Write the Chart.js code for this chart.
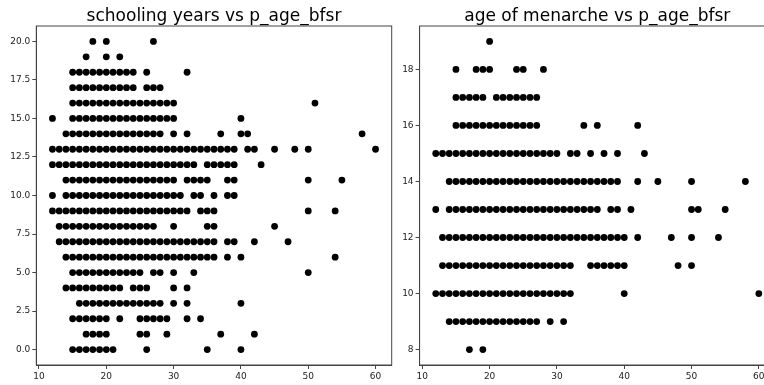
<!DOCTYPE html>
<html>
<head>
<meta charset="utf-8">
<script src="https://cdn.jsdelivr.net/npm/chart.js@4.4.0/dist/chart.umd.min.js"></script>
<style>
  html, body { margin: 0; padding: 0; background: #fff; }
  body { width: 764px; height: 385px; overflow: hidden; position: relative; }
  canvas { position: absolute; top: 0; }
  #schooling { left: 0; }
  #menarche { left: 380px; }
</style>
</head>
<body>
<canvas id="schooling" width="400" height="385"></canvas>
<canvas id="menarche" width="400" height="385"></canvas>
<script>
// values: one list of p_age_bfsr values per y level

// schooling years (y) vs p_age_bfsr (x)
const schoolingLevels = [0, 1, 2, 3, 4, 5, 6, 7, 8, 9, 10, 11, 12, 13, 14, 15, 16, 17, 18, 19, 20];
const schoolingAges = [
  [15, 16, 17, 18, 19, 20, 21, 26, 35, 40],
  [17, 18, 19, 20, 25, 26, 29, 37, 42],
  [15, 16, 17, 18, 19, 20, 22, 25, 26, 27, 28, 29, 32, 34],
  [16, 17, 18, 19, 20, 21, 22, 23, 24, 25, 26, 27, 28, 30, 32, 40],
  [14, 15, 16, 17, 18, 19, 20, 21, 22, 24, 25, 26, 30, 32],
  [15, 16, 17, 18, 19, 20, 21, 22, 23, 24, 25, 27, 28, 30, 33, 50],
  [14, 15, 16, 17, 18, 19, 20, 21, 22, 23, 24, 25, 26, 27, 28, 29, 30, 31, 32, 33, 34, 35, 36, 38, 40, 54],
  [13, 14, 15, 16, 17, 18, 19, 20, 21, 22, 23, 24, 25, 26, 27, 28, 29, 30, 31, 32, 33, 34, 35, 36, 38, 39, 42, 47],
  [13, 14, 15, 16, 17, 18, 19, 20, 21, 22, 23, 24, 25, 26, 27, 30, 35, 36, 45],
  [12, 13, 14, 15, 16, 17, 18, 19, 20, 21, 22, 23, 24, 25, 26, 27, 28, 29, 30, 31, 32, 34, 35, 36, 50, 54],
  [12, 14, 15, 16, 17, 18, 19, 20, 21, 22, 23, 24, 25, 26, 27, 28, 29, 30, 31, 33, 34, 36, 38, 39],
  [14, 15, 16, 17, 18, 19, 20, 21, 22, 23, 24, 25, 26, 27, 28, 29, 30, 32, 33, 34, 35, 38, 39, 50, 55],
  [12, 13, 14, 15, 16, 17, 18, 19, 20, 21, 22, 23, 24, 25, 26, 27, 28, 29, 30, 31, 32, 33, 35, 36, 37, 38, 39, 43],
  [12, 13, 14, 15, 16, 17, 18, 19, 20, 21, 22, 23, 24, 25, 26, 27, 28, 29, 30, 31, 32, 33, 34, 35, 36, 37, 38, 39, 41, 42, 45, 48, 50, 60],
  [14, 15, 16, 17, 18, 19, 20, 21, 22, 23, 24, 25, 26, 27, 28, 30, 32, 37, 40, 41, 58],
  [12, 15, 16, 17, 18, 19, 20, 21, 22, 23, 24, 25, 26, 27, 28, 29, 30, 40],
  [15, 16, 17, 18, 19, 20, 21, 22, 23, 24, 25, 26, 27, 28, 29, 30, 51],
  [15, 16, 17, 18, 19, 20, 21, 22, 23, 24, 26, 27, 28],
  [15, 16, 17, 18, 19, 20, 21, 22, 23, 24, 26, 32],
  [17, 20, 22],
  [18, 20, 27]
];

// age of menarche (y) vs p_age_bfsr (x)
const menarcheLevels = [8, 9, 10, 11, 12, 13, 14, 15, 16, 17, 18, 19];
const menarcheAges = [
  [17, 19],
  [14, 15, 16, 17, 18, 19, 20, 21, 22, 23, 24, 25, 26, 27, 29, 31],
  [12, 13, 14, 15, 16, 17, 18, 19, 20, 21, 22, 23, 24, 25, 26, 27, 28, 29, 30, 31, 32, 40, 60],
  [13, 14, 15, 16, 17, 18, 19, 20, 21, 22, 23, 24, 25, 26, 27, 28, 29, 30, 31, 32, 35, 36, 37, 38, 39, 40, 48, 50],
  [13, 14, 15, 16, 17, 18, 19, 20, 21, 22, 23, 24, 25, 26, 27, 28, 29, 30, 31, 32, 33, 34, 35, 36, 37, 38, 39, 40, 42, 47, 50, 54],
  [12, 14, 15, 16, 17, 18, 19, 20, 21, 22, 23, 24, 25, 26, 27, 28, 29, 30, 31, 32, 33, 34, 35, 36, 38, 39, 41, 50, 51, 55],
  [14, 15, 16, 17, 18, 19, 20, 21, 22, 23, 24, 25, 26, 27, 28, 29, 30, 31, 32, 33, 34, 35, 36, 37, 38, 39, 42, 45, 50, 58],
  [12, 13, 14, 15, 16, 17, 18, 19, 20, 21, 22, 23, 24, 25, 26, 27, 28, 29, 30, 32, 33, 35, 37, 39, 43],
  [15, 16, 17, 18, 19, 20, 21, 22, 23, 24, 25, 26, 27, 34, 36, 42],
  [15, 16, 17, 18, 19, 21, 22, 23, 24, 25, 26, 27],
  [15, 18, 19, 20, 24, 25, 28],
  [20]
];

// tick labels
const ageTicks = [10, 20, 30, 40, 50, 60];
const schoolingTicks = [0, 2.5, 5, 7.5, 10, 12.5, 15, 17.5, 20];
const menarcheTicks = [8, 10, 12, 14, 16, 18];

const FONT = 'DejaVu Sans';
const AXIS = '#444';

function toPoints(levels, ages) {
  const pts = [];
  levels.forEach((lvl, i) => {
    ages[i].forEach(a => pts.push({ x: a, y: lvl }));
  });
  return pts;
}

// matplotlib style box around the axes
const framePlugin = {
  id: 'frame',
  afterDraw(chart) {
    const a = chart.chartArea;
    const ctx = chart.ctx;
    ctx.save();
    ctx.strokeStyle = AXIS;
    ctx.lineWidth = 1;
    ctx.strokeRect(a.left, a.top, a.right - a.left, a.bottom - a.top);
    ctx.restore();
  }
};

function makeChart(id, title, points, yMin, yMax, yTicks, yFmt, yWidth, padRight) {
  return new Chart(document.getElementById(id), {
    type: 'scatter',
    data: {
      datasets: [{
        data: points,
        backgroundColor: '#000',
        borderWidth: 0,
        pointRadius: 3.4,
        pointHoverRadius: 3.4
      }]
    },
    options: {
      responsive: false,
      animation: false,
      layout: { padding: { left: 0, right: padRight, top: 0, bottom: 0 } },
      plugins: {
        legend: { display: false },
        tooltip: { enabled: false },
        title: {
          display: true,
          text: title,
          fullSize: false,
          color: '#000',
          font: { family: FONT, size: 17, weight: 'normal', lineHeight: 1.1 },
          padding: { top: 7, bottom: 0.3 }
        }
      },
      scales: {
        x: {
          type: 'linear',
          min: 9.6,
          max: 62.4,
          afterBuildTicks: s => { s.ticks = ageTicks.map(v => ({ value: v })); },
          afterFit: s => { s.height = 20; },
          grid: { drawOnChartArea: false, tickLength: 4, color: AXIS },
          border: { color: AXIS },
          ticks: { color: '#222', padding: 2, maxRotation: 0, font: { family: FONT, size: 9 } }
        },
        y: {
          type: 'linear',
          min: yMin,
          max: yMax,
          afterBuildTicks: s => { s.ticks = yTicks.map(v => ({ value: v })); },
          afterFit: s => { s.width = yWidth; },
          grid: { drawOnChartArea: false, tickLength: 4, color: AXIS },
          border: { color: AXIS },
          ticks: { color: '#222', padding: 2, callback: yFmt, font: { family: FONT, size: 9 } }
        }
      }
    },
    plugins: [framePlugin]
  });
}

makeChart('schooling', 'schooling years vs p_age_bfsr',
  toPoints(schoolingLevels, schoolingAges), -1, 21, schoolingTicks,
  v => v.toFixed(1), 36.3, 8.3);

makeChart('menarche', 'age of menarche vs p_age_bfsr',
  toPoints(menarcheLevels, menarcheAges), 7.45, 19.55, menarcheTicks,
  v => String(v), 39.6, 5);
</script>
</body>
</html>
